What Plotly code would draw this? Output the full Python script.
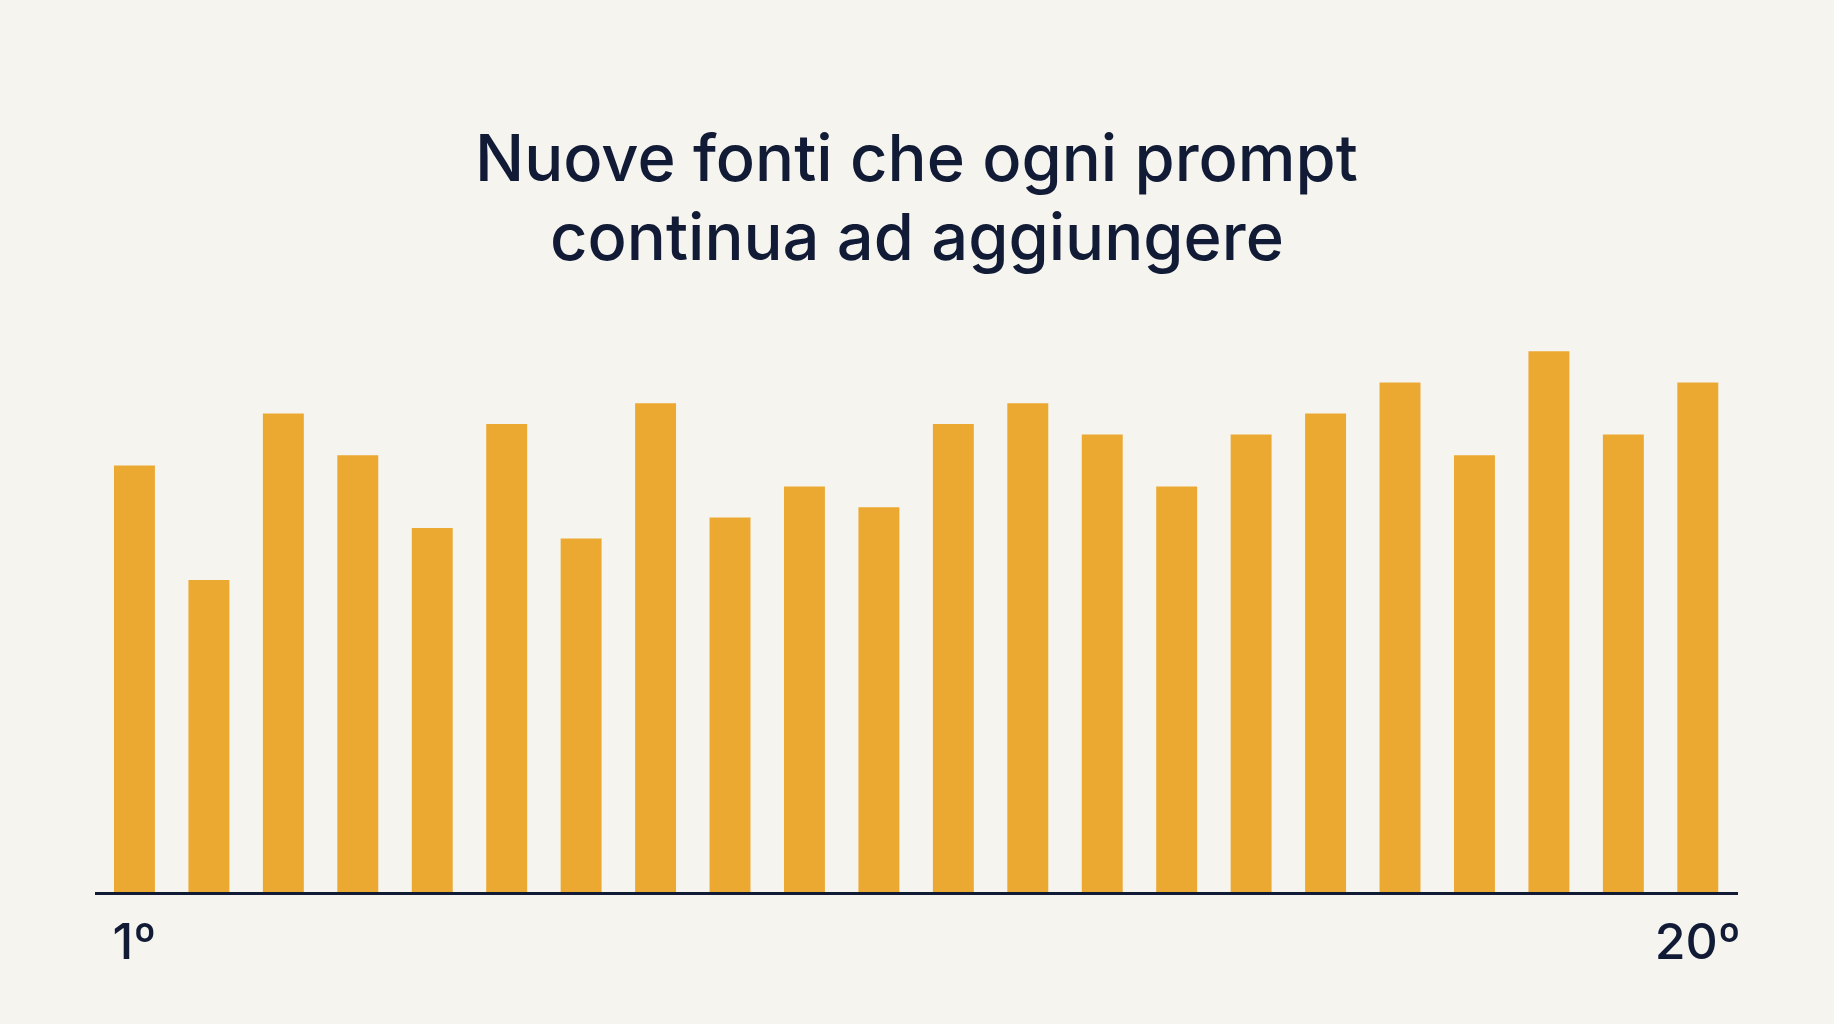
import plotly.graph_objects as go

categories = list(range(1, 23))
values = [41, 30, 46, 42, 35, 45, 34, 47, 36, 39, 37, 45, 47, 44, 39, 44, 46, 49, 42, 52, 44, 49]
tick_vals = [1, 22]
tick_text = ["1º", "20º"]

title_lines = ["Nuove fonti che ogni prompt", "continua ad aggiungere"]
title_line_y = [1.1775, 1.0505]

bar_color = "#ECA932"
bg = "#F5F4EF"
ink = "#121B35"

fig = go.Figure(
    go.Bar(
        x=categories,
        y=values,
        marker=dict(color=bar_color, line=dict(width=0)),
        width=0.55,
    )
)

fig.update_layout(
    width=1834,
    height=1024,
    paper_bgcolor=bg,
    plot_bgcolor=bg,
    margin=dict(l=95, r=96, t=268, b=132),
    showlegend=False,
)

for txt, yy in zip(title_lines, title_line_y):
    fig.add_annotation(
        text=txt,
        xref="paper",
        yref="paper",
        x=0.5,
        y=yy,
        xanchor="center",
        yanchor="middle",
        showarrow=False,
        font=dict(family="Inter", size=65, color=ink, weight=500),
    )

fig.update_xaxes(
    range=[0.47, 22.54],
    tickmode="array",
    tickvals=tick_vals,
    ticktext=tick_text,
    showgrid=False,
    zeroline=False,
    showline=True,
    linecolor=ink,
    linewidth=3,
    ticks="",
    ticklabelstandoff=4,
    tickfont=dict(family="Inter", size=50, color=ink, weight=500),
)
fig.update_yaxes(
    range=[0, 60],
    visible=False,
    showgrid=False,
    zeroline=False,
)

fig.write_html(
    "out.html",
    config={"displayModeBar": False},
    post_script="document.body.style.margin='0';document.body.style.background='%s';" % bg,
)
